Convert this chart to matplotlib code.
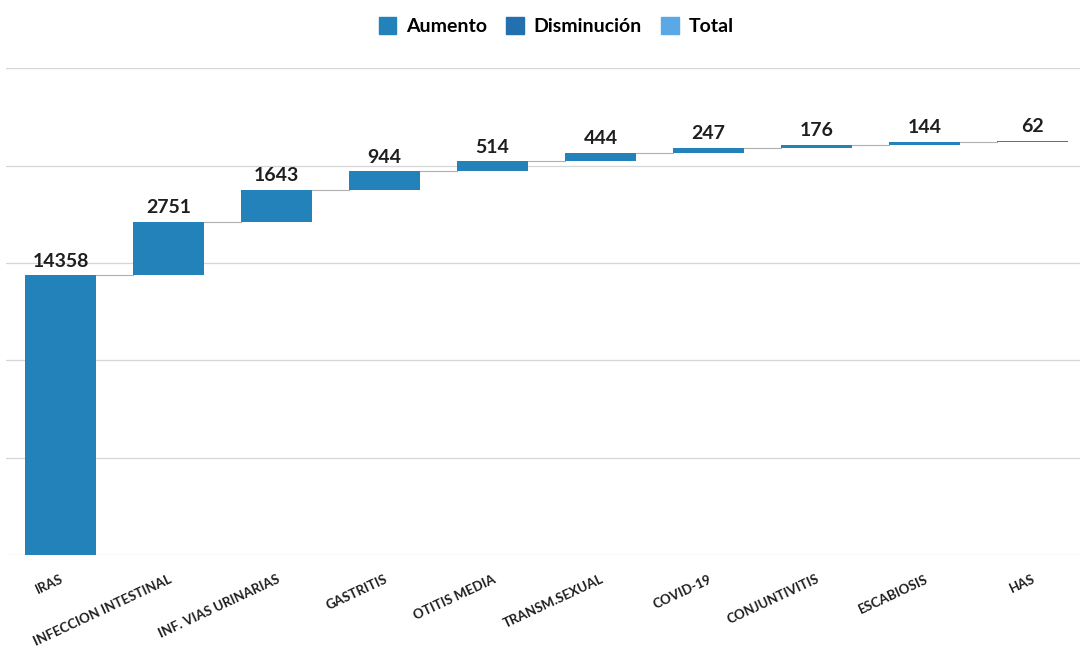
import matplotlib
matplotlib.use("Agg")
import matplotlib.pyplot as plt
from matplotlib.patches import Patch

categorias = ["IRAS", "INFECCION INTESTINAL", "INF. VIAS URINARIAS", "GASTRITIS",
              "OTITIS MEDIA", "TRANSM.SEXUAL", "COVID-19", "CONJUNTIVITIS",
              "ESCABIOSIS", "HAS"]
casos = [14358, 2751, 1643, 944, 514, 444, 247, 176, 144, 62]

color_aumento = "#2482bb"
color_dism = "#2270ad"
color_total = "#5aa9e6"

plt.rcParams['font.family'] = ['Lato', 'DejaVu Sans']

fig = plt.figure(figsize=(10.8, 6.56), dpi=100)
ax = fig.add_axes([0.006, 0.154, 1.0, 0.742])

# base acumulada de cada barra
bases = []
acum = 0
for v in casos:
    bases.append(acum)
    acum += v

x = list(range(len(casos)))
ancho = 0.66
ax.bar(x, casos, bottom=bases, width=ancho, color=color_aumento, zorder=3)

# conectores entre barras
for i in range(len(casos) - 1):
    nivel = bases[i] + casos[i]
    ax.plot([i + ancho / 2, i + 1 - ancho / 2], [nivel, nivel],
            color="#b0b0b0", lw=0.8, zorder=2)

# etiquetas de valor
for i, v in enumerate(casos):
    ax.text(i, bases[i] + v + 300, str(v), ha="center", va="bottom",
            fontsize=14, fontweight="bold", color="#1e1e1e")

ax.set_xlim(-0.5, len(casos) - 0.5)
ax.set_ylim(0, 25000)
ax.set_yticks([0, 5000, 10000, 15000, 20000, 25000])
ax.set_yticklabels([])
ax.tick_params(axis="y", length=0)
ax.tick_params(axis="x", length=0, pad=13)
ax.grid(axis="y", color="#d6d6d6", lw=0.9, zorder=0)
for s in ax.spines.values():
    s.set_visible(False)

ax.set_xticks(x)
ax.set_xticklabels(categorias, rotation=25, ha="right", rotation_mode="anchor",
                   fontsize=9.5, fontweight="bold", color="#1e1e1e")

handles = [Patch(color=color_aumento, label="Aumento"),
           Patch(color=color_dism, label="Disminución"),
           Patch(color=color_total, label="Total")]
fig.legend(handles=handles, loc="upper center", bbox_to_anchor=(0.515, 1.0),
           ncol=3, frameon=False, handlelength=0.9, handleheight=0.9,
           handletextpad=0.5, columnspacing=1.0,
           prop={"size": 14, "weight": "bold"})

fig.savefig("out.png", dpi=100)
